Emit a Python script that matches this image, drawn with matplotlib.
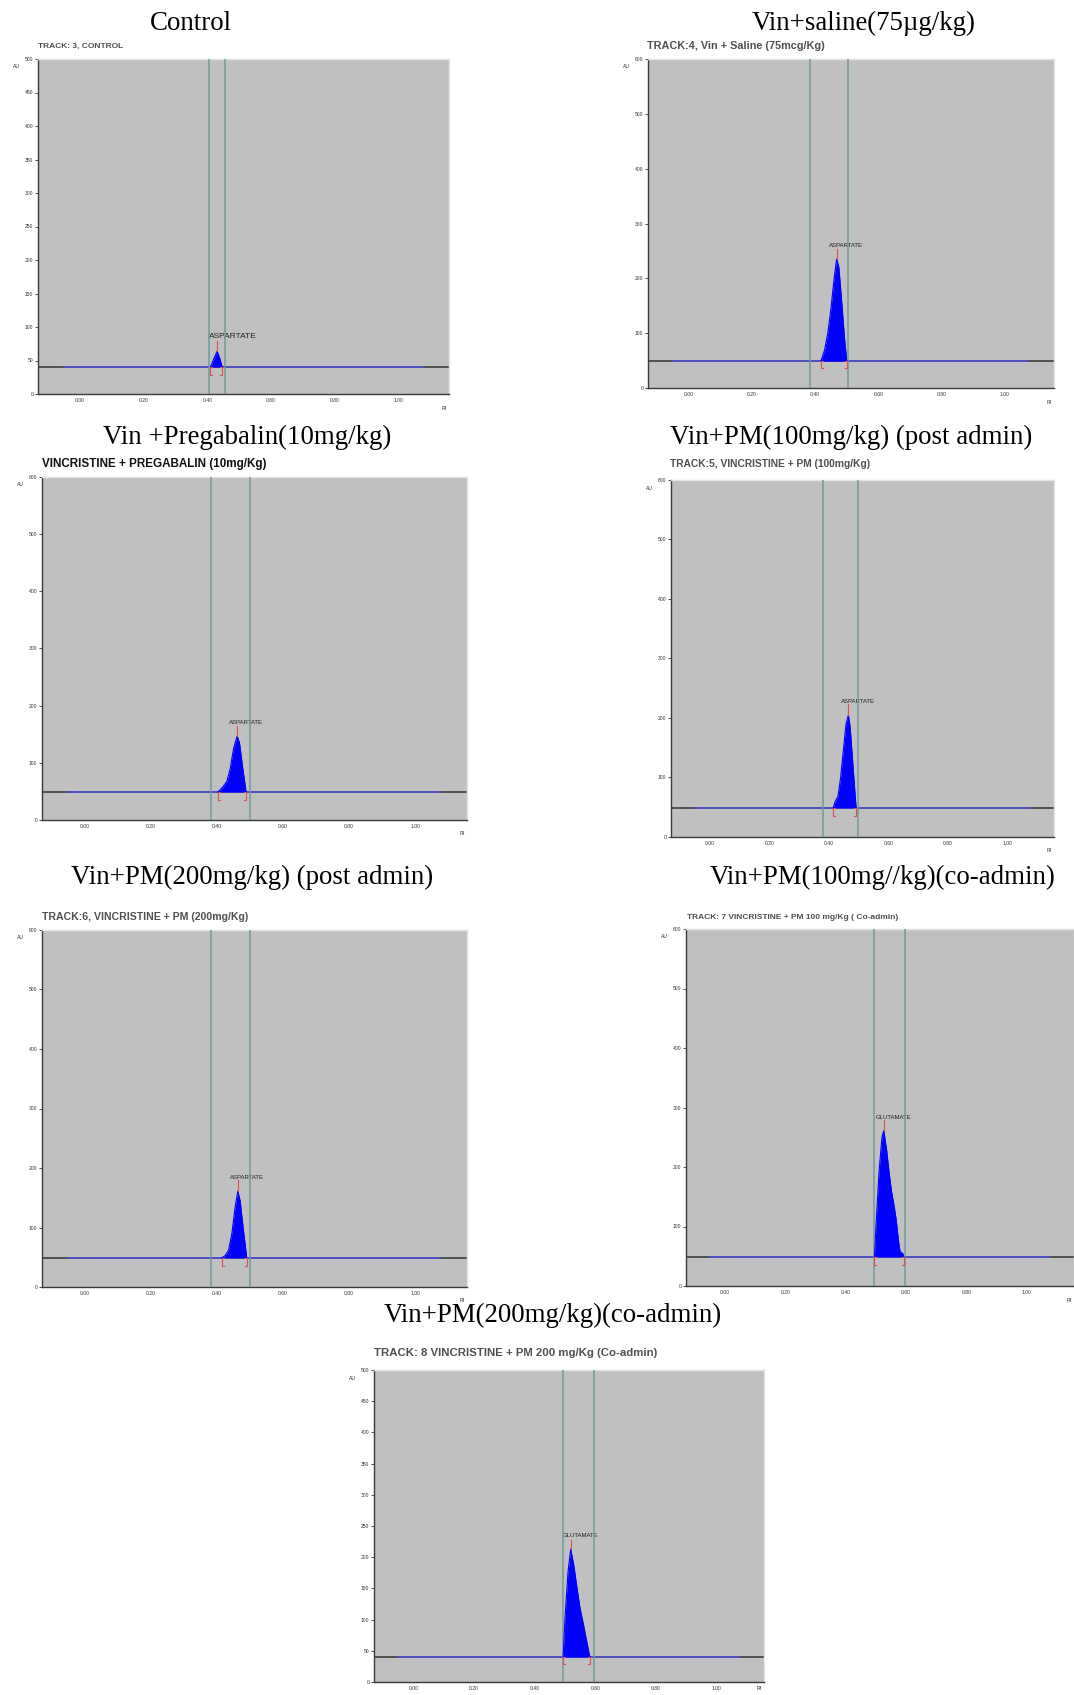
import matplotlib
matplotlib.use("Agg")
import matplotlib.pyplot as plt
import numpy as np

W, H = 1074, 1695
DPI = 100

# panel titles (treatment groups) and densitometer track labels
titles = ["Control", "Vin+saline(75\u00b5g/kg)", "Vin +Pregabalin(10mg/kg)",
          "Vin+PM(100mg/kg) (post admin)", "Vin+PM(200mg/kg) (post admin)",
          "Vin+PM(100mg//kg)(co-admin)", "Vin+PM(200mg/kg)(co-admin)"]
tracks = ["TRACK: 3, CONTROL",
          "TRACK:4, Vin + Saline (75mcg/Kg)",
          "VINCRISTINE + PREGABALIN (10mg/Kg)",
          "TRACK:5, VINCRISTINE + PM (100mg/Kg)",
          "TRACK:6, VINCRISTINE + PM (200mg/Kg)",
          "TRACK: 7 VINCRISTINE + PM 100 mg/Kg ( Co-admin)",
          "TRACK: 8 VINCRISTINE + PM 200 mg/Kg (Co-admin)"]
compounds = ["ASPARTATE", "ASPARTATE", "ASPARTATE", "ASPARTATE",
             "ASPARTATE", "GLUTAMATE", "GLUTAMATE"]
au_max = [500, 600, 600, 600, 600, 600, 500]
baselines = [40, 49, 49, 49, 49, 49, 40]
# integration window (vertical lines), Rf
windows = [(0.407, 0.455), (0.383, 0.503), (0.383, 0.500), (0.380, 0.498),
           (0.382, 0.500), (0.495, 0.598), (0.494, 0.595)]

# peak profiles (Rf, AU)
rf_control = [0.410, 0.420, 0.431, 0.440, 0.447]
au_control = [40, 52, 64, 52, 40]
rf_saline = [0.418, 0.430, 0.440, 0.450, 0.460, 0.468, 0.475, 0.485, 0.493, 0.500]
au_saline = [49, 70, 100, 145, 200, 235, 220, 150, 90, 49]
rf_preg = [0.403, 0.418, 0.430, 0.440, 0.450, 0.461, 0.468, 0.478, 0.488]
au_preg = [49, 58, 68, 90, 125, 147, 135, 90, 49]
rf_pm100 = [0.415, 0.422, 0.431, 0.440, 0.450, 0.458, 0.466, 0.472, 0.480, 0.488, 0.492]
au_pm100 = [49, 60, 68, 100, 150, 190, 205, 185, 130, 75, 49]
rf_pm200 = [0.414, 0.425, 0.435, 0.445, 0.455, 0.463, 0.470, 0.480, 0.490]
au_pm200 = [49, 53, 62, 90, 135, 161, 145, 95, 49]
rf_co100 = [0.495, 0.500, 0.510, 0.520, 0.526, 0.535, 0.545, 0.552, 0.560,
            0.567, 0.575, 0.580, 0.590, 0.593]
au_co100 = [49, 100, 190, 250, 261, 230, 185, 158, 135, 112, 75, 58, 54, 49]
rf_co200 = [0.494, 0.500, 0.510, 0.519, 0.530, 0.540, 0.550, 0.560, 0.570, 0.580, 0.583]
au_co200 = [40, 100, 175, 213, 185, 150, 118, 95, 70, 45, 40]

peaks = [(rf_control, au_control), (rf_saline, au_saline), (rf_preg, au_preg),
         (rf_pm100, au_pm100), (rf_pm200, au_pm200), (rf_co100, au_co100),
         (rf_co200, au_co200)]

# layout in pixels: left, right, top, bottom of each plot frame
boxes = [(38, 449, 59, 394), (648, 1054, 59, 388), (42, 467, 477, 820),
         (671, 1054, 480, 837), (42, 467, 930, 1287), (686, 1074, 929, 1286),
         (374, 764, 1370, 1682)]
title_pos = [(191, 23), (864, 23), (247, 437), (851, 437), (252, 877),
             (883, 877), (553, 1315)]
track_pos = [(38, 46), (647, 46), (42, 464), (670, 464), (42, 917),
             (687, 917), (374, 1353)]
track_size = [6.0, 7.8, 8.4, 7.4, 7.6, 6.0, 8.2]

fig = plt.figure(figsize=(W / DPI, H / DPI), dpi=DPI)
fig.patch.set_facecolor("white")

serif = ["Liberation Serif", "DejaVu Serif"]
sans = ["Liberation Sans", "DejaVu Sans"]


def fx(px):
    return px / W


def fy(py):
    return 1 - py / H


for i in range(7):
    l, r, t, b = boxes[i]
    ax = fig.add_axes([fx(l), fy(b), (r - l) / W, (b - t) / H])
    ax.set_facecolor("#c0c0c0")
    ax.set_xlim(-0.13, 1.157)
    ymax = au_max[i]
    ax.set_ylim(0, ymax)
    step = 50 if ymax == 500 else 100
    ax.set_yticks(np.arange(0, ymax + 1, step))
    ax.set_yticklabels([str(v) for v in np.arange(0, ymax + 1, step)],
                       fontsize=3.6, family=sans, color="#333333")
    ax.set_xticks([0, 0.2, 0.4, 0.6, 0.8, 1.0])
    ax.set_xticklabels(["0.00", "0.20", "0.40", "0.60", "0.80", "1.00"],
                       fontsize=3.6, family=sans, color="#333333")
    ax.tick_params(axis="y", length=2.5, width=0.6, color="#333333", pad=1)
    ax.tick_params(axis="x", length=0, pad=3)
    for side in ["left", "bottom"]:
        ax.spines[side].set_color("#3a3a3a")
        ax.spines[side].set_linewidth(1.0)
    for side in ["top", "right"]:
        ax.spines[side].set_color("#e4e4e4")
        ax.spines[side].set_linewidth(1.0)

    base = baselines[i]
    # baseline: dark full-width line with blue integrated stretch
    ax.axhline(base, color="#333333", lw=1.1, zorder=2)
    ax.plot([-0.05, 1.075], [base, base], color="#5050e8", lw=1.1, zorder=3)
    for xv in windows[i]:
        ax.axvline(xv, color="#6f9c99", lw=1.1, zorder=4)

    rf, au = peaks[i]
    ax.fill_between(rf, base, au, color="#0000ff", lw=0, zorder=5)
    ax.plot(rf, au, color="#0000ff", lw=0.8, zorder=5)

    # red markers: peak apex and start/end brackets
    k = int(np.argmax(au))
    d = ymax * 0.022
    ax.plot([rf[k], rf[k]], [au[k], au[k] + ymax * 0.03], color="#e05050",
            lw=0.8, zorder=6)
    s, e = rf[0], rf[-1]
    ax.plot([s + 0.006, s, s, s + 0.006], [base, base, base - d, base - d],
            color="#e05050", lw=0.8, zorder=6)
    ax.plot([e - 0.006, e, e, e - 0.006], [base, base, base - d, base - d],
            color="#e05050", lw=0.8, zorder=6)

    ax.annotate(compounds[i], xy=(rf[k] - 0.025, au[k]), xytext=(0, 8),
                textcoords="offset points", fontsize=6 if i == 0 else 4.3,
                family=sans, color="#222222", va="bottom", ha="left")

    # axis unit captions
    fig.text(fx(l - 25), fy(t + 8), "AU", fontsize=3.6, family=sans,
             color="#333333", ha="left", va="center")
    fig.text(fx(r - 2), fy(min(b + 14, H - 6)), "Rf", fontsize=3.6, family=sans,
             color="#333333", ha="right", va="center")

    # panel title and track label
    tx, ty = title_pos[i]
    fig.text(fx(tx), fy(ty), titles[i], fontsize=19.4, family=serif,
             color="black", ha="center", va="center")
    kx, ky = track_pos[i]
    fig.text(fx(kx), fy(ky), tracks[i], fontsize=track_size[i],
             family=sans, fontweight="bold",
             color="#111111" if i == 2 else "#505050", ha="left", va="center")

fig.savefig("out.png", dpi=DPI, facecolor="white")
